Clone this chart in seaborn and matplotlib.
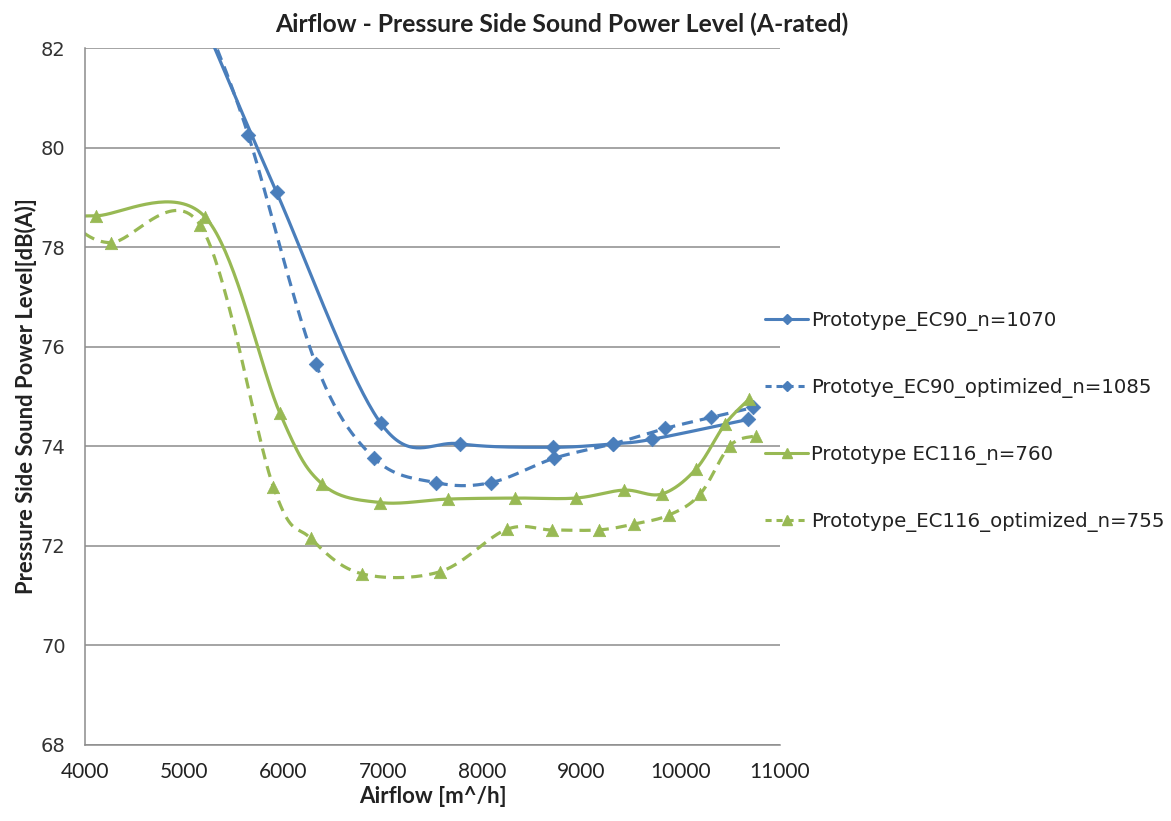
import numpy as np
import pandas as pd
import matplotlib
matplotlib.use("Agg")
import matplotlib.pyplot as plt
import seaborn as sns
from matplotlib.lines import Line2D

sns.set_style("white")
plt.rcParams["font.family"] = ["DejaVu Sans"]

# ---------------- data ----------------
ec90_x = [5200, 5930, 6980, 7780, 8710, 9320, 9710, 10680]
ec90_y = [82.5, 79.1, 74.46, 74.05, 73.98, 74.05, 74.14, 74.54]

ec90_opt_x = [5200, 5645, 6326, 6913, 7535, 8088, 8726, 9320, 9846, 10310, 10730]
ec90_opt_y = [82.65, 80.25, 75.65, 73.76, 73.27, 73.27, 73.76, 74.05, 74.36, 74.58, 74.78]

ec116_x = [3850, 4111, 5208, 5964, 6390, 6971, 7659, 8330, 8944, 9428, 9807, 10153, 10445, 10690]
ec116_y = [78.6, 78.63, 78.61, 74.66, 73.24, 72.87, 72.94, 72.96, 72.96, 73.12, 73.04, 73.54, 74.44, 74.95]

ec116_opt_x = [3850, 4258, 5158, 5896, 6273, 6786, 7575, 8246, 8699, 9176, 9532, 9884, 10196, 10495, 10757]
ec116_opt_y = [78.5, 78.09, 78.45, 73.19, 72.15, 71.44, 71.48, 72.33, 72.32, 72.32, 72.44, 72.62, 73.04, 74.01, 74.21]

labels = ["Prototype_EC90_n=1070", "Prototye_EC90_optimized_n=1085",
          "Prototype EC116_n=760", "Prototype_EC116_optimized_n=755"]

x_ticks = [4000, 5000, 6000, 7000, 8000, 9000, 10000, 11000]
y_ticks = [68, 70, 72, 74, 76, 78, 80, 82]

BLUE = "#4A7EBB"
GREEN = "#98B954"


def excel_smooth(x, y, n=40):
    # Excel "smoothed line": Bezier segments with Catmull-Rom control points
    p = np.column_stack([x, y]).astype(float)
    p_ext = np.vstack([p[0], p, p[-1]])
    out = []
    for i in range(len(p) - 1):
        p0, p1, p2, p3 = p_ext[i], p_ext[i + 1], p_ext[i + 2], p_ext[i + 3]
        b1 = p1 + (p2 - p0) / 6
        b2 = p2 - (p3 - p1) / 6
        t = np.linspace(0, 1, n)[:, None]
        seg = ((1 - t) ** 3) * p1 + 3 * ((1 - t) ** 2) * t * b1 + 3 * (1 - t) * t ** 2 * b2 + t ** 3 * p2
        out.append(seg if i == 0 else seg[1:])
    seg = np.vstack(out)
    return pd.DataFrame({"x": seg[:, 0], "y": seg[:, 1]})


series = [
    (ec90_x, ec90_y, BLUE, "D", "-", labels[0]),
    (ec90_opt_x, ec90_opt_y, BLUE, "D", "--", labels[1]),
    (ec116_x, ec116_y, GREEN, "^", "-", labels[2]),
    (ec116_opt_x, ec116_opt_y, GREEN, "^", "--", labels[3]),
]

fig = plt.figure(figsize=(11.71, 8.21), dpi=100)
ax = fig.add_axes([0.0726, 0.0926, 0.5935, 0.8489])

handles = []
for xs, ys, col, mk, ls, lab in series:
    curve = excel_smooth(xs, ys)
    line_kw = dict(color=col, linewidth=2.3, sort=False, estimator=None, ax=ax)
    if ls == "--":
        sns.lineplot(data=curve, x="x", y="y", dashes=False, linestyle=(0, (3.5, 2.2)), **line_kw)
    else:
        sns.lineplot(data=curve, x="x", y="y", **line_kw)
    pts = pd.DataFrame({"x": xs, "y": ys})
    msize = 55 if mk == "D" else 80
    sns.scatterplot(data=pts, x="x", y="y", marker=mk, color=col, s=msize,
                    edgecolor=col, linewidth=0.5, ax=ax, zorder=3)
    handles.append(Line2D([0], [0], color=col, lw=2.2,
                          linestyle="-" if ls == "-" else (0, (2.0, 1.6)),
                          marker=mk, markersize=5.5 if mk == "D" else 7,
                          markerfacecolor=col, markeredgecolor=col))

ax.set_xlim(4000, 11000)
ax.set_ylim(68, 82)
ax.set_xticks(x_ticks)
ax.set_yticks(y_ticks)
ax.set_xticklabels([str(v) for v in x_ticks], fontfamily="Lato", fontsize=15, color="#222222")
ax.set_yticklabels([str(v) for v in y_ticks], fontsize=14, color="#333333")

ax.grid(axis="y", color="#8C8C8C", linewidth=1.1)
ax.grid(axis="x", visible=False)
for side in ["top", "right"]:
    ax.spines[side].set_visible(False)
for side in ["left", "bottom"]:
    ax.spines[side].set_color("#8C8C8C")
    ax.spines[side].set_linewidth(1.1)
ax.tick_params(axis="both", direction="out", length=5, width=1.1, color="#8C8C8C")
ax.tick_params(axis="x", pad=7)
ax.tick_params(axis="y", pad=9)

ax.set_xlabel("Airflow [m^/h]", fontfamily="Lato", fontweight="bold", fontsize=16, color="#222222", labelpad=3)
ax.set_ylabel("Pressure Side Sound Power Level[dB(A)]", fontfamily="Lato", fontweight="bold",
              fontsize=15.8, color="#222222", labelpad=3)
fig.text(0.480, 0.971, "Airflow - Pressure Side Sound Power Level (A-rated)", ha="center", va="center",
         fontfamily="Lato", fontweight="bold", fontsize=17.8, color="#222222")

fig.legend(handles=handles, labels=labels, loc="upper left", bbox_to_anchor=(0.638, 0.643),
           frameon=False, fontsize=14.2, handlelength=2.2, handletextpad=0.15, labelspacing=2.38,
           labelcolor="#222222")

fig.savefig("out.png", dpi=100)
